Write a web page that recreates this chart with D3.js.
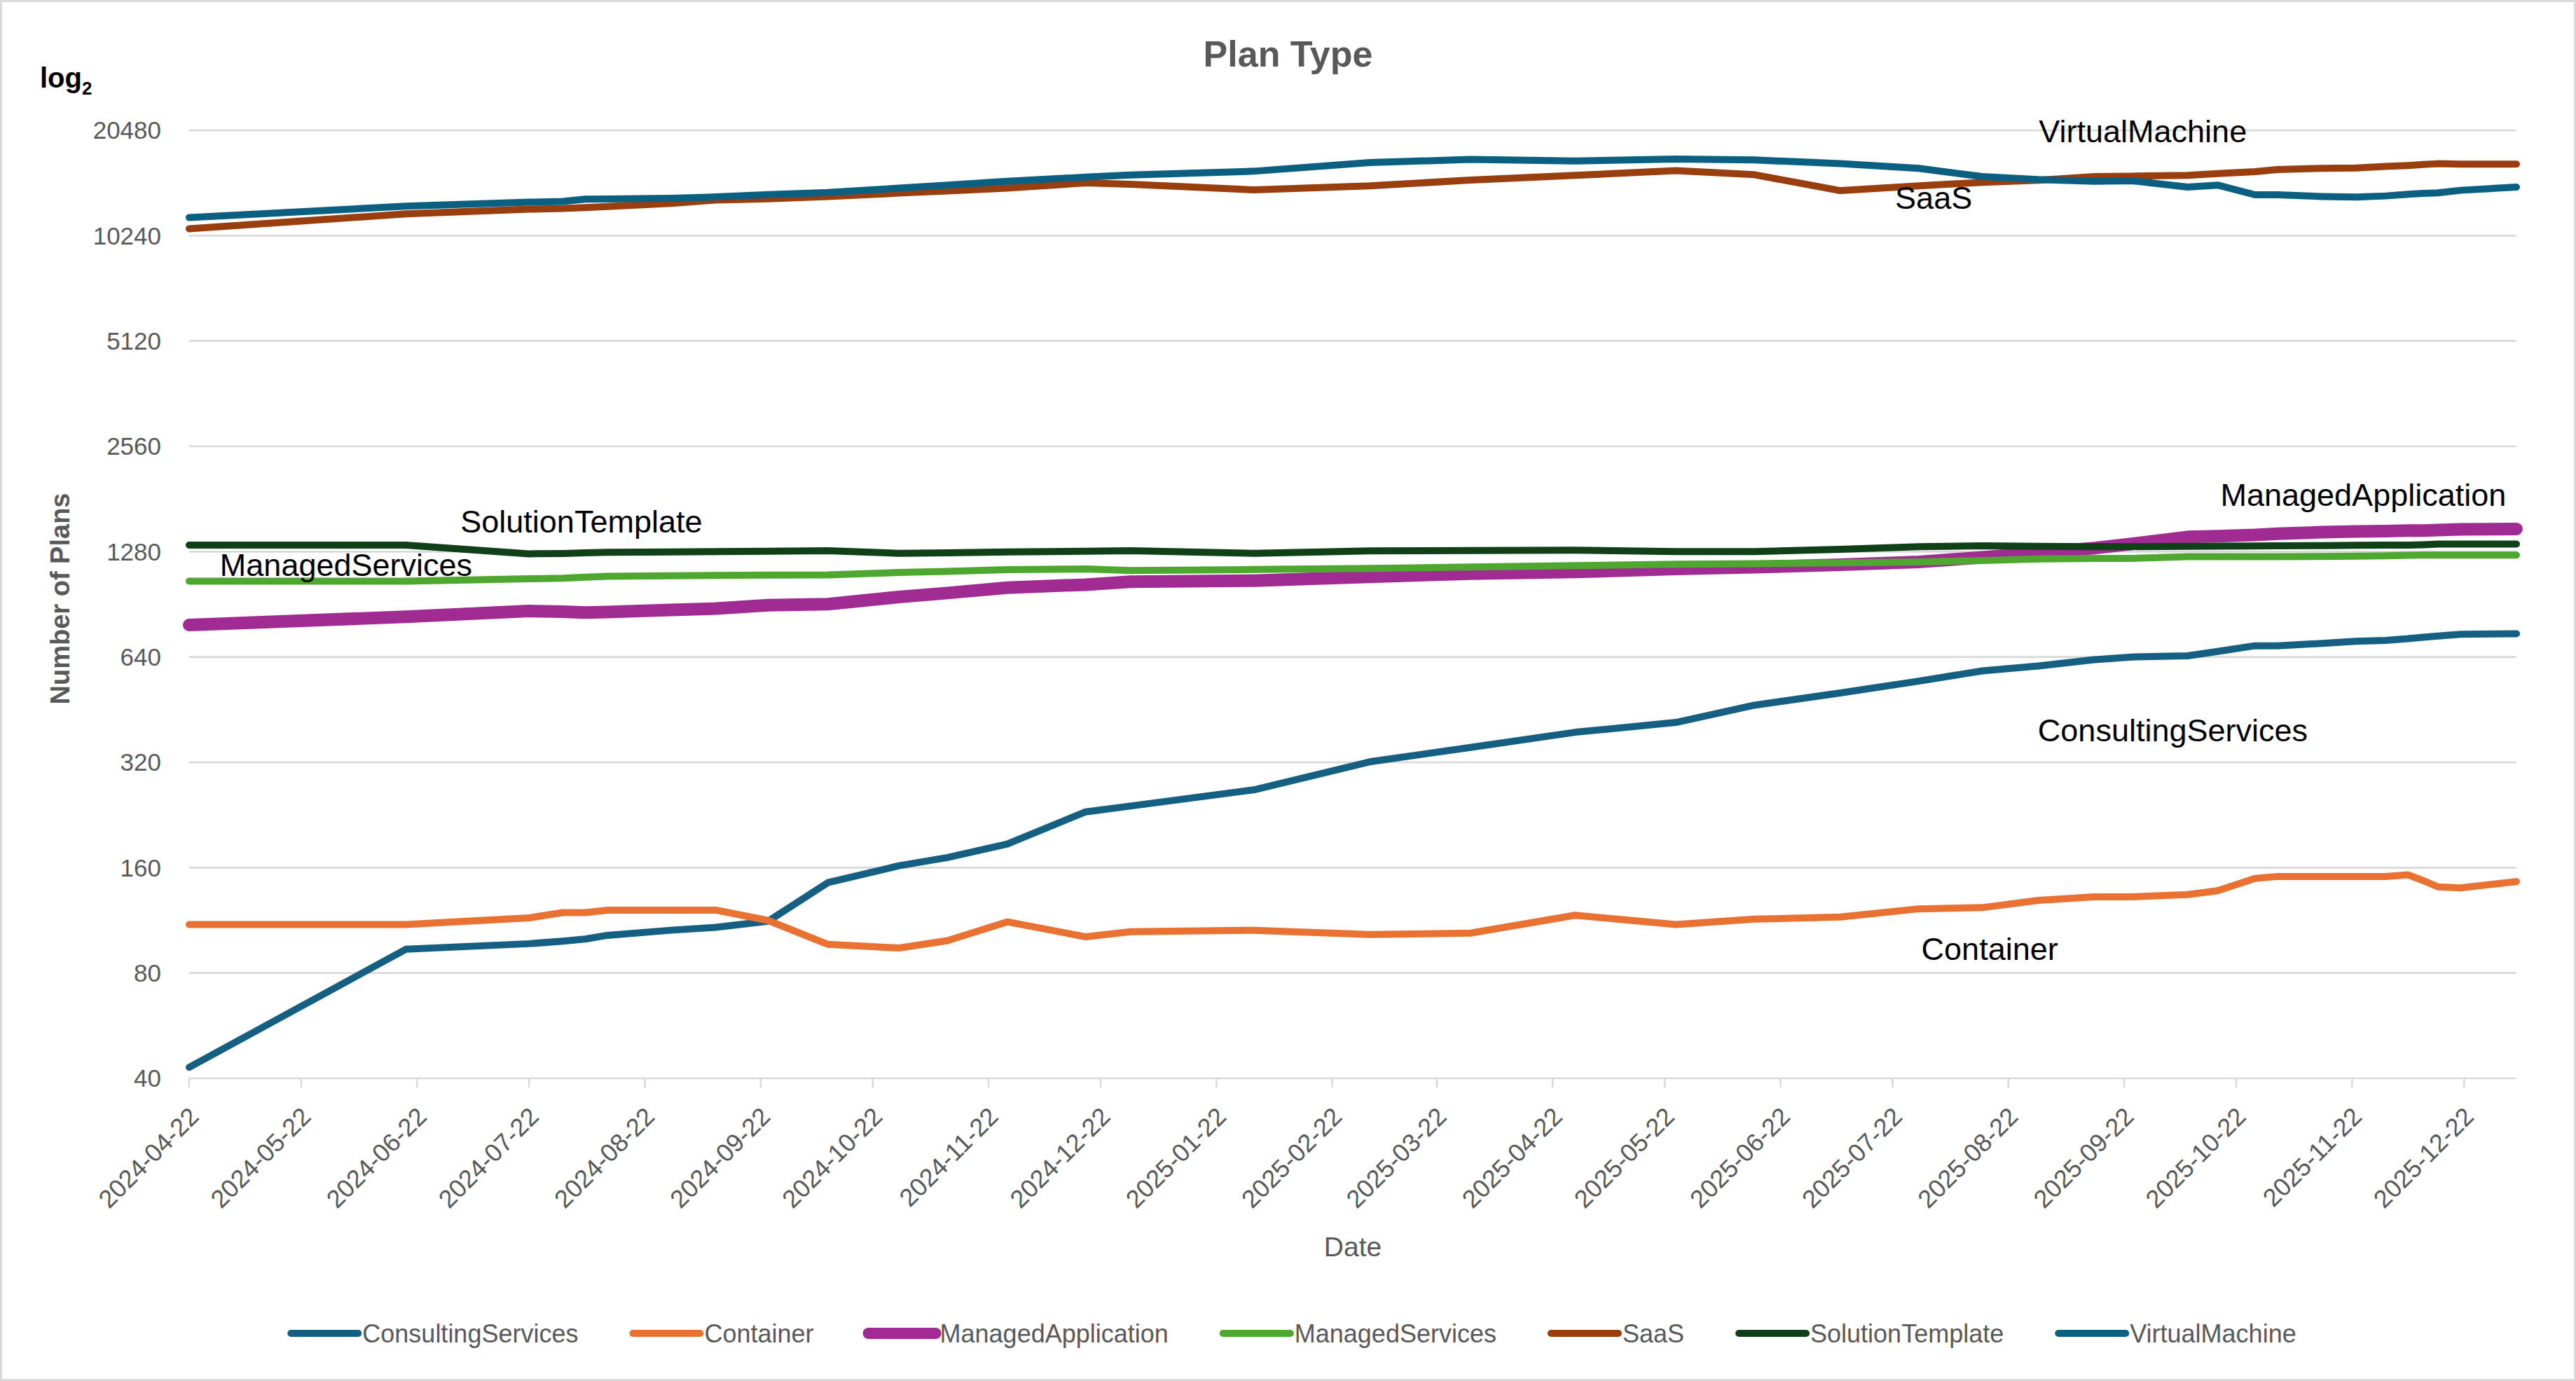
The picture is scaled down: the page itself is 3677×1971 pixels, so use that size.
<!DOCTYPE html>
<html>
<head>
<meta charset="utf-8">
<script src="https://cdn.jsdelivr.net/npm/d3@7"></script>
<style>
  body { margin: 0; background: #ffffff; }
  svg text { font-family: "Liberation Sans", Arial, sans-serif; }
</style>
</head>
<body>
<svg id="chart"></svg>
<script>
// ---------------- DATA ----------------
const dates = [
  "2024-04-22","2024-06-19","2024-07-22","2024-07-31","2024-08-06","2024-08-12","2024-08-29",
  "2024-09-10","2024-09-24","2024-10-10","2024-10-29","2024-11-11","2024-11-27","2024-12-18",
  "2024-12-30","2025-02-01","2025-03-04","2025-03-31","2025-04-28","2025-05-25","2025-06-15",
  "2025-07-08","2025-07-29","2025-08-15","2025-08-30","2025-09-14","2025-09-24","2025-10-09",
  "2025-10-17","2025-10-27","2025-11-02","2025-11-14","2025-11-23","2025-12-01","2025-12-07",
  "2025-12-11","2025-12-15","2025-12-21","2026-01-05"
];
const consultingServices = [43,93.5,97,98.6,100,102.5,106,108,112.5,145,162,171,187,231,240,267,321,353,390,416,466,505,546,584,603,629,640,645,664,689,689,700,710,714,722,729,735,743,746];
const container = [110,110,115,119,119,121,121,121,113,96.6,94.3,99,112,101.5,105,106,103,104,117,110,114,115.6,122,123,129,132,132,134,137.5,149,151,151,151,151,152.6,147,141,140,146];
const managedApplication = [790,834,866,862,857,860,872,880,900,906,950,975,1010,1030,1050,1058,1085,1108,1120,1142,1155,1175,1196,1233,1270,1310,1347,1410,1417,1428,1440,1455,1462,1465,1470,1470,1475,1482,1486];
const managedServices = [1054,1054,1071,1075,1082,1088,1092,1095,1097,1099,1116,1124,1137,1143,1130,1138,1146,1157,1168,1178,1183,1190,1196,1208,1220,1224,1224,1239,1239,1239,1239,1240,1242,1245,1250,1251,1251,1251,1251];
const saas = [10720,11815,12186,12250,12315,12400,12660,12950,13053,13250,13550,13750,14000,14490,14360,13838,14206,14763,15224,15702,15292,13773,14206,14550,14750,15104,15150,15224,15400,15600,15818,15950,15993,16145,16250,16350,16443,16400,16400];
const solutionTemplate = [1336,1336,1262,1265,1270,1274,1277,1280,1284,1288,1266,1270,1277,1283,1288,1266,1286,1289,1292,1280,1281,1300,1322,1330,1325,1322,1323,1326,1327,1328,1330,1332,1334,1336,1336,1340,1346,1346,1346];
const virtualMachine = [11540,12426,12760,12820,13015,13030,13096,13213,13420,13600,14000,14280,14650,15050,15272,15648,16566,16906,16745,16950,16850,16443,15943,15104,14807,14650,14700,14097,14280,13400,13400,13250,13200,13300,13450,13520,13567,13800,14100];

const seriesNames = ["ConsultingServices","Container","ManagedApplication","ManagedServices","SaaS","SolutionTemplate","VirtualMachine"];
const seriesValues = [consultingServices, container, managedApplication, managedServices, saas, solutionTemplate, virtualMachine];

const yTickValues = [40,80,160,320,640,1280,2560,5120,10240,20480];
const xTickLabels = [
  "2024-04-22","2024-05-22","2024-06-22","2024-07-22","2024-08-22","2024-09-22","2024-10-22",
  "2024-11-22","2024-12-22","2025-01-22","2025-02-22","2025-03-22","2025-04-22","2025-05-22",
  "2025-06-22","2025-07-22","2025-08-22","2025-09-22","2025-10-22","2025-11-22","2025-12-22"
];
// data-space anchors of the series name labels
const labelDates  = ["2025-10-05","2025-08-17","2025-11-25","2024-06-03","2025-08-02","2024-08-05","2025-09-27"];
const labelValues = [367, 87.2, 1727, 1089, 12200, 1450, 18900];

// ---------------- STYLE / LAYOUT ----------------
const W = 3677, H = 1971;
const M = { left: 270, right: 3592, top: 186, bottom: 1539 };
const colors = ["#156082","#E97132","#A02B93","#4EA72E","#993F0F","#0F4017","#0B6082"];
const widths = [10, 10, 18, 10, 10, 10, 10];
const gray = "#595959", gridColor = "#d9d9d9";

const parse = d3.utcParse("%Y-%m-%d");
const svg = d3.select("#chart").attr("width", W).attr("height", H);

svg.append("rect").attr("x", 1.5).attr("y", 1.5).attr("width", W - 3).attr("height", H - 3)
  .attr("fill", "#fff").attr("stroke", gridColor).attr("stroke-width", 3);

const x = d3.scaleUtc().domain([parse(dates[0]), parse(dates[dates.length - 1])]).range([M.left, M.right]);
const y = d3.scaleLog().base(2).domain([40, 20480]).range([M.bottom, M.top]);

// gridlines
svg.append("g").selectAll("line").data(yTickValues).join("line")
  .attr("x1", M.left).attr("x2", M.right)
  .attr("y1", d => y(d)).attr("y2", d => y(d))
  .attr("stroke", gridColor).attr("stroke-width", 2.6);

// y tick labels
svg.append("g").selectAll("text").data(yTickValues).join("text")
  .attr("x", M.left - 40).attr("y", d => y(d)).attr("dy", "0.35em")
  .attr("text-anchor", "end").attr("fill", gray).attr("font-size", 35)
  .text(d => d);

// x ticks
const xTicks = xTickLabels.map(parse);
svg.append("g").selectAll("line").data(xTicks).join("line")
  .attr("x1", d => x(d)).attr("x2", d => x(d))
  .attr("y1", M.bottom).attr("y2", M.bottom + 13)
  .attr("stroke", gridColor).attr("stroke-width", 2.6);
svg.append("g").selectAll("text").data(xTickLabels).join("text")
  .attr("transform", d => `translate(${x(parse(d)) + 7},${M.bottom + 48}) rotate(-45)`)
  .attr("text-anchor", "end").attr("dy", "0.35em")
  .attr("fill", gray).attr("font-size", 36)
  .text(d => d);

// axis titles
svg.append("text").attr("x", (M.left + M.right) / 2).attr("y", 1793)
  .attr("text-anchor", "middle").attr("fill", gray).attr("font-size", 39).text("Date");
svg.append("text").attr("transform", `translate(${99},${(M.top + M.bottom) / 2 - 8}) rotate(-90)`)
  .attr("text-anchor", "middle").attr("fill", gray).attr("font-size", 38).attr("font-weight", "bold")
  .text("Number of Plans");

// title
svg.append("text").attr("x", W / 2).attr("y", 95).attr("text-anchor", "middle")
  .attr("fill", gray).attr("font-size", 52).attr("font-weight", "bold").text("Plan Type");

// log2 note
const lg = svg.append("text").attr("x", 57).attr("y", 125).attr("fill", "#000")
  .attr("font-weight", "bold").attr("font-size", 40);
lg.append("tspan").text("log");
lg.append("tspan").attr("font-size", 26).attr("dy", 10).text("2");

// lines
const line = d3.line().x(d => x(d.date)).y(d => y(d.v));
seriesNames.forEach((name, i) => {
  const pts = dates.map((d, j) => ({ date: parse(d), v: seriesValues[i][j] }));
  svg.append("path").datum(pts).attr("d", line)
    .attr("fill", "none").attr("stroke", colors[i]).attr("stroke-width", widths[i])
    .attr("stroke-linejoin", "round").attr("stroke-linecap", "round");
});

// series labels
seriesNames.forEach((name, i) => {
  svg.append("text").attr("x", x(parse(labelDates[i]))).attr("y", y(labelValues[i]))
    .attr("text-anchor", "middle").attr("fill", "#000").attr("font-size", 45).text(name);
});

// legend
const legend = svg.append("g");
const items = [];
let cx = 0;
const gap = 78;
seriesNames.forEach((name, i) => {
  const g = legend.append("g");
  g.append("line").attr("x1", 0).attr("x2", 96).attr("y1", 0).attr("y2", 0)
    .attr("stroke", colors[i]).attr("stroke-width", i === 2 ? 16 : 10).attr("stroke-linecap", "round");
  const t = g.append("text").attr("x", 102).attr("y", 0).attr("dy", "0.35em")
    .attr("fill", gray).attr("font-size", 36).text(name);
  const tw = t.node().getComputedTextLength();
  items.push({ g, x: cx });
  cx += 102 + tw + gap;
});
const total = cx - gap;
const startX = W / 2 + 8 - total / 2;
items.forEach(it => it.g.attr("transform", `translate(${startX + it.x},${1903})`));
</script>
</body>
</html>
